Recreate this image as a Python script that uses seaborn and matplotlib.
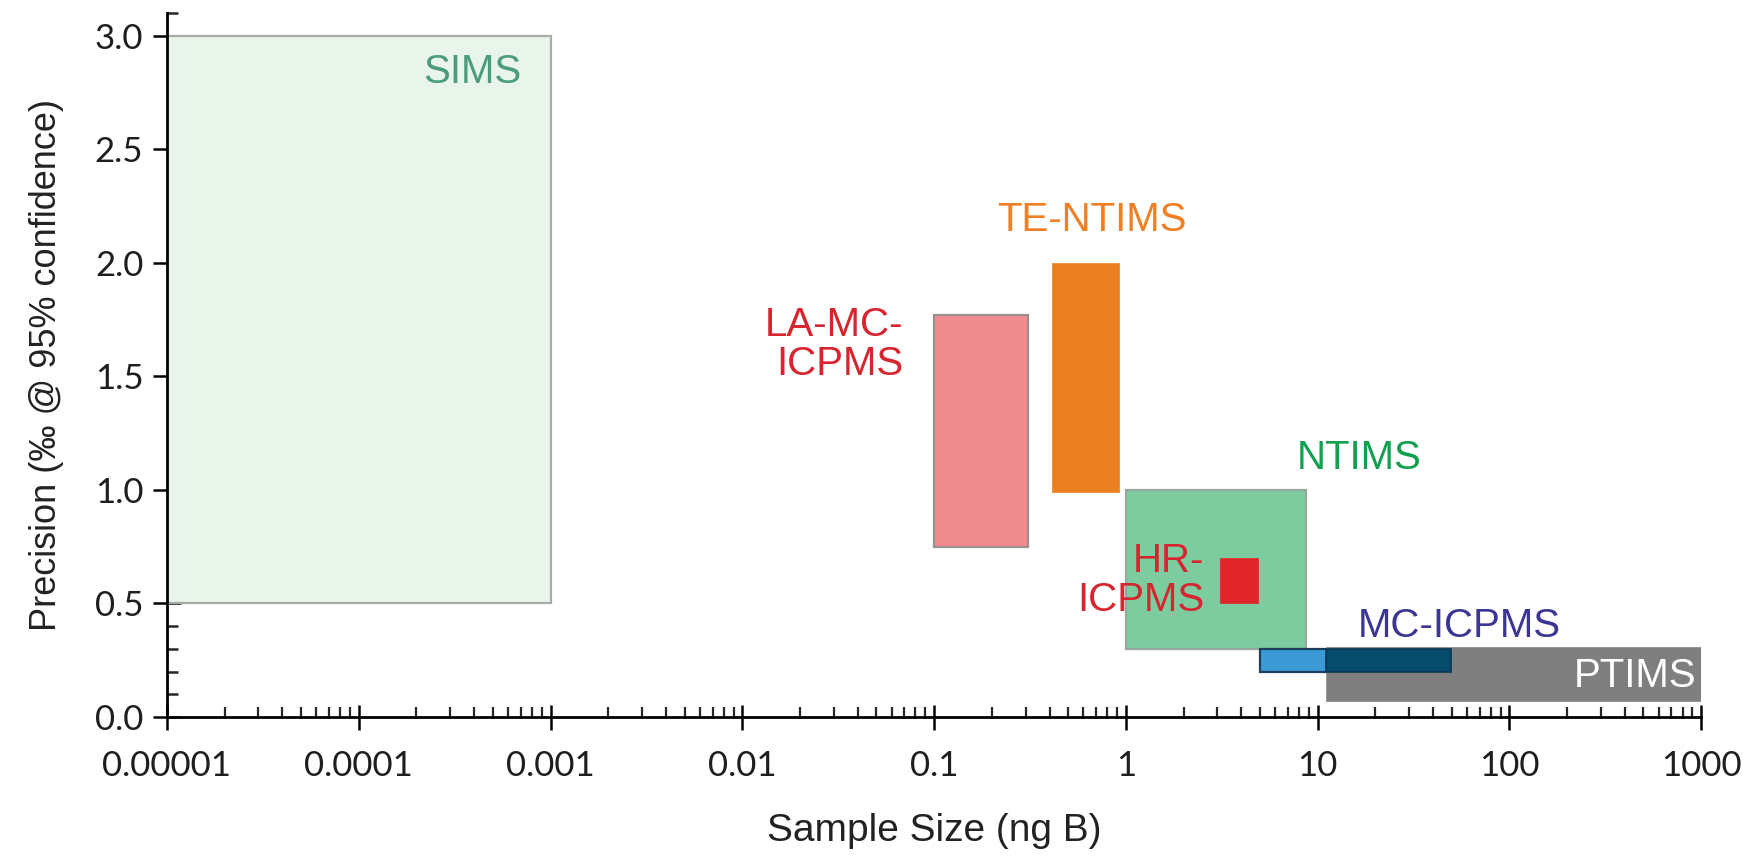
import numpy as np
import pandas as pd
import matplotlib
matplotlib.use("Agg")
import matplotlib.pyplot as plt
from matplotlib.ticker import FixedLocator, FixedFormatter, LogLocator, MultipleLocator, NullFormatter
import seaborn as sns

# ---- data ----
methods = ["SIMS", "LA-MC-ICPMS", "TE-NTIMS", "NTIMS", "HR-ICPMS", "MC-ICPMS", "PTIMS"]
size_lo = [1e-5, 0.1, 0.41, 1.0, 3.1, 5.0, 11.0]
size_hi = [1e-3, 0.31, 0.92, 8.75, 4.9, 49.5, 1000.0]
prec_lo = [0.5, 0.75, 0.99, 0.30, 0.50, 0.20, 0.07]
prec_hi = [3.0, 1.77, 2.0, 1.0, 0.70, 0.30, 0.31]

label_text = ["SIMS", "LA-MC-\nICPMS", "TE-NTIMS", "NTIMS", "HR-\nICPMS", "MC-ICPMS", "PTIMS"]
label_x = [3.9e-4, 0.069, 0.665, 16.4, 2.56, 55.0, 450.0]
label_y = [2.84, 1.64, 2.19, 1.14, 0.60, 0.40, 0.18]

x_ticks = [1e-5, 1e-4, 1e-3, 1e-2, 1e-1, 1, 10, 100, 1000]
x_ticklabels = ["0.00001", "0.0001", "0.001", "0.01", "0.1", "1", "10", "100", "1000"]
y_ticks = [0.0, 0.5, 1.0, 1.5, 2.0, 2.5, 3.0]
y_ticklabels = ["0.0", "0.5", "1.0", "1.5", "2.0", "2.5", "3.0"]

# ---- styles ----
fills = {"SIMS": "#e9f4ea", "LA-MC-ICPMS": "#f08b8f", "TE-NTIMS": "#ec7f1f",
         "NTIMS": "#7dcca0", "HR-ICPMS": "#e0262a", "MC-ICPMS": "#3b9ad6", "PTIMS": "#7f7f7f"}
edges = {"SIMS": "#a8aca8", "LA-MC-ICPMS": "#9a9090", "TE-NTIMS": "#ec7f1f",
         "NTIMS": "#98a89e", "HR-ICPMS": "#e0262a", "MC-ICPMS": "#1d3f5f", "PTIMS": "#858585"}
txtcol = {"SIMS": "#4b9b7e", "LA-MC-ICPMS": "#d8242e", "TE-NTIMS": "#ef7f22",
          "NTIMS": "#11a04f", "HR-ICPMS": "#d8242e", "MC-ICPMS": "#3b3593", "PTIMS": "#ffffff"}
halign = {"SIMS": "center", "LA-MC-ICPMS": "right", "TE-NTIMS": "center", "NTIMS": "center",
          "HR-ICPMS": "right", "MC-ICPMS": "center", "PTIMS": "center"}
overlap_color = "#064a6c"

sns.set_theme(style="ticks")
plt.rcParams["font.family"] = ["Liberation Sans", "DejaVu Sans"]

fig = plt.figure(figsize=(17.43, 8.58), dpi=100)
ax = fig.add_axes([0.0958, 0.1643, 0.976 - 0.0958, 0.985 - 0.1643])
ax.set_xscale("log")

df = pd.DataFrame({"method": methods, "lo": size_lo, "hi": size_hi, "plo": prec_lo, "phi": prec_hi})
draw_order = ["SIMS", "LA-MC-ICPMS", "TE-NTIMS", "NTIMS", "MC-ICPMS", "PTIMS", "HR-ICPMS"]
for m in draw_order:
    r = df[df.method == m].iloc[0]
    lw = 1.6 if m in ("SIMS", "LA-MC-ICPMS", "NTIMS", "MC-ICPMS") else 0.5
    ax.bar(r.lo, r.phi - r.plo, width=r.hi - r.lo, bottom=r.plo, align="edge",
           color=fills[m], edgecolor=edges[m], linewidth=lw, zorder=2)

# overlap of MC-ICPMS with PTIMS appears darker
a = df[df.method == "MC-ICPMS"].iloc[0]
b = df[df.method == "PTIMS"].iloc[0]
ox0, ox1 = max(a.lo, b.lo), min(a.hi, b.hi)
oy0, oy1 = max(a.plo, b.plo), min(a.phi, b.phi)
ax.bar(ox0, oy1 - oy0, width=ox1 - ox0, bottom=oy0, align="edge",
       color=overlap_color, edgecolor="#0a3550", linewidth=1.2, zorder=3)

for m, t, lx, ly in zip(methods, label_text, label_x, label_y):
    ax.text(lx, ly, t, color=txtcol[m], ha=halign[m], va="center", fontsize=29,
            linespacing=1.05, zorder=5, family=["Liberation Sans", "DejaVu Sans"])

ax.set_xlim(1e-5, 1000)
ax.set_ylim(0, 3.1)

ax.xaxis.set_major_locator(FixedLocator(x_ticks))
ax.xaxis.set_major_formatter(FixedFormatter(x_ticklabels))
ax.xaxis.set_minor_locator(LogLocator(base=10, subs=np.arange(2, 10)))
ax.xaxis.set_minor_formatter(NullFormatter())
ax.yaxis.set_major_locator(FixedLocator(y_ticks))
ax.yaxis.set_major_formatter(FixedFormatter(y_ticklabels))
ax.yaxis.set_minor_locator(MultipleLocator(0.1))

ax.tick_params(axis="x", which="major", direction="inout", length=18, width=1.8, pad=15,
               labelsize=25, colors="black")
ax.tick_params(axis="x", which="minor", direction="in", length=7, width=1.6)
ax.tick_params(axis="y", which="major", direction="inout", length=20, width=1.8, pad=7,
               labelsize=25, colors="black")
ax.tick_params(axis="y", which="minor", direction="in", length=8, width=1.8)
for lab in ax.get_xticklabels() + ax.get_yticklabels():
    lab.set_family(["Lato", "DejaVu Sans"])
    lab.set_color("#1e1e1e")

sns.despine(ax=ax)
for s in ("left", "bottom"):
    ax.spines[s].set_linewidth(2.0)
    ax.spines[s].set_color("black")
ax.set_facecolor("white")

ax.set_xlabel("Sample Size (ng B)", fontsize=28, labelpad=22, color="#222222")
ax.set_ylabel("Precision (‰ @ 95% confidence)", fontsize=26, labelpad=22, color="#222222")

fig.savefig("out.png", dpi=100, facecolor="white")
